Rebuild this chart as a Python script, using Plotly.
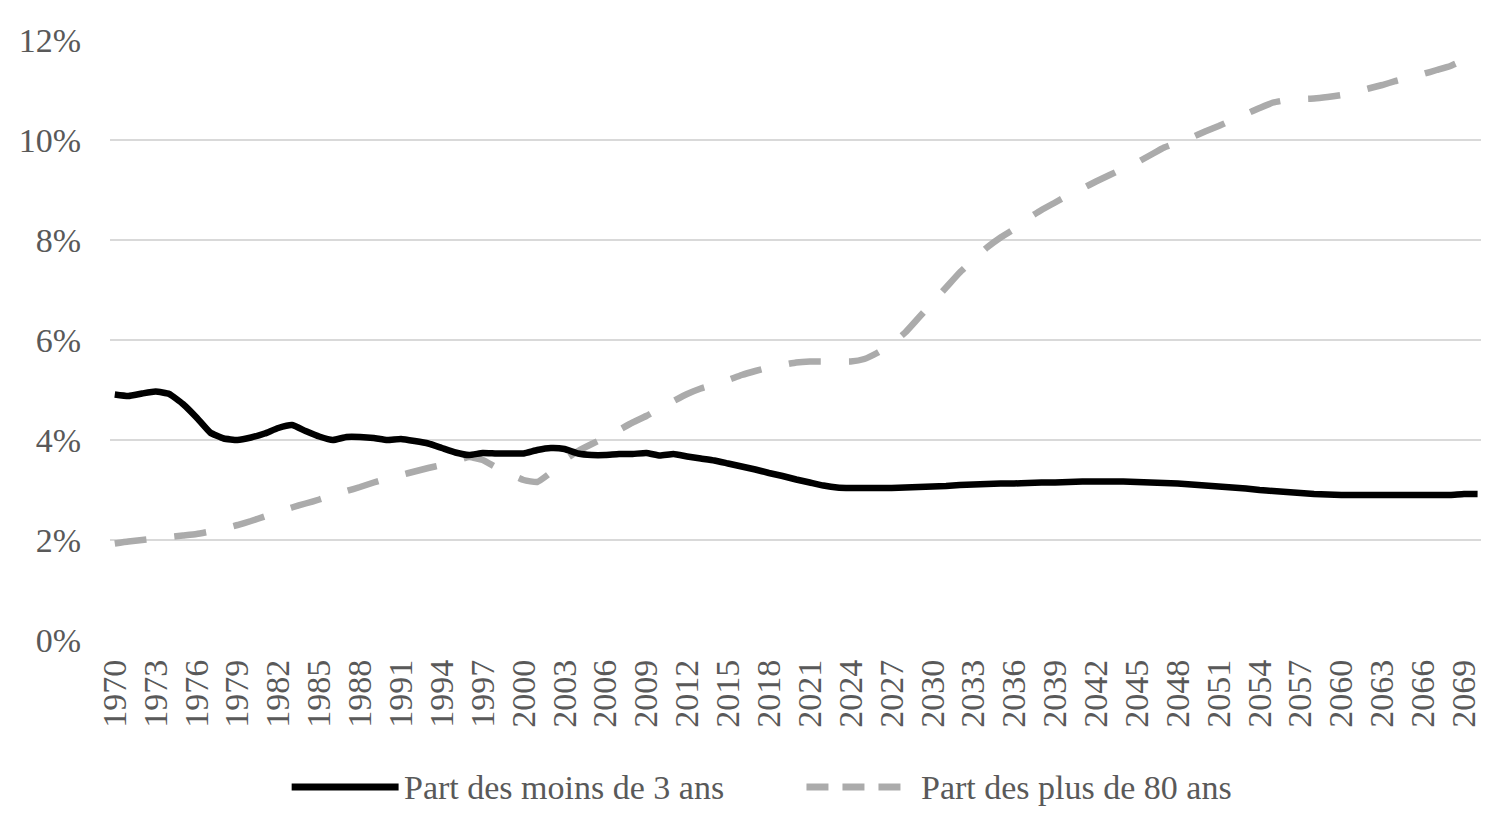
import plotly.graph_objects as go

years = list(range(1970, 2071))

moins_3_ans = [
    4.91, 4.88, 4.93, 4.97, 4.92, 4.72, 4.45, 4.15, 4.03, 4.00,  # 1970-1979
    4.05, 4.13, 4.24, 4.30, 4.18, 4.07, 4.00, 4.06, 4.06, 4.04,  # 1980-1989
    4.00, 4.02, 3.98, 3.93, 3.84, 3.75, 3.70, 3.74, 3.73, 3.73,  # 1990-1999
    3.73, 3.80, 3.84, 3.82, 3.73, 3.70, 3.70, 3.72, 3.72, 3.74,  # 2000-2009
    3.69, 3.72, 3.67, 3.63, 3.59, 3.53, 3.47, 3.41, 3.34, 3.28,  # 2010-2019
    3.21, 3.15, 3.09, 3.05, 3.04, 3.04, 3.04, 3.04, 3.05, 3.06,  # 2020-2029
    3.07, 3.08, 3.10, 3.11, 3.12, 3.13, 3.13, 3.14, 3.15, 3.15,  # 2030-2039
    3.16, 3.17, 3.17, 3.17, 3.17, 3.16, 3.15, 3.14, 3.13, 3.11,  # 2040-2049
    3.09, 3.07, 3.05, 3.03, 3.00, 2.98, 2.96, 2.94, 2.92, 2.91,  # 2050-2059
    2.90, 2.90, 2.90, 2.90, 2.90, 2.90, 2.90, 2.90, 2.90, 2.92,  # 2060-2069
    2.92,                                                        # 2070
]

plus_80_ans = [
    1.93, 1.97, 2.00, 2.03, 2.06, 2.09, 2.12, 2.17, 2.23, 2.30,  # 1970-1979
    2.38, 2.47, 2.56, 2.65, 2.73, 2.81, 2.90, 2.98, 3.06, 3.15,  # 1980-1989
    3.23, 3.30, 3.37, 3.44, 3.50, 3.58, 3.66, 3.60, 3.45, 3.32,  # 1990-1999
    3.20, 3.16, 3.35, 3.60, 3.78, 3.92, 4.05, 4.20, 4.35, 4.48,  # 2000-2009
    4.63, 4.78, 4.92, 5.03, 5.11, 5.20, 5.30, 5.38, 5.45, 5.50,  # 2010-2019
    5.55, 5.57, 5.57, 5.57, 5.57, 5.62, 5.75, 5.92, 6.15, 6.45,  # 2020-2029
    6.75, 7.05, 7.35, 7.60, 7.85, 8.05, 8.22, 8.43, 8.60, 8.75,  # 2030-2039
    8.90, 9.03, 9.17, 9.30, 9.43, 9.55, 9.70, 9.85, 9.95, 10.05, # 2040-2049
    10.17, 10.28, 10.40, 10.52, 10.64, 10.75, 10.80, 10.82, 10.83, 10.86, # 2050-2059
    10.90, 10.96, 11.03, 11.10, 11.18, 11.25, 11.32, 11.40, 11.48, 11.60, # 2060-2069
    11.72,                                                        # 2070
]

tick_years = list(range(1970, 2070, 3))
tick_labels = [str(y) for y in tick_years]
y_ticks = [0, 2, 4, 6, 8, 10, 12]
y_labels = ["0%", "2%", "4%", "6%", "8%", "10%", "12%"]

series_names = ["Part des moins de 3 ans", "Part des plus de 80 ans"]
FONT = "Liberation Serif"
TXT = "#595959"
FS = 34

fig = go.Figure()
fig.add_trace(go.Scatter(
    x=years, y=plus_80_ans, mode="lines", name=series_names[1],
    line=dict(color="#ababab", width=6.5, dash="32px,28px", shape="spline", smoothing=0.4),
))
fig.add_trace(go.Scatter(
    x=years, y=moins_3_ans, mode="lines", name=series_names[0],
    line=dict(color="#000000", width=6.5, shape="spline", smoothing=0.4),
))

# custom legend (paper coordinates)
LY = -0.245
fig.add_shape(type="line", xref="paper", yref="paper", x0=0.1325, x1=0.2105, y0=LY, y1=LY,
              line=dict(color="#000000", width=7))
fig.add_annotation(xref="paper", yref="paper", x=0.2130, y=LY, text=series_names[0],
                   showarrow=False, xanchor="left", yanchor="middle",
                   font=dict(family=FONT, size=FS, color=TXT))
fig.add_shape(type="line", xref="paper", yref="paper", x0=0.508, x1=0.579, y0=LY, y1=LY,
              line=dict(color="#ababab", width=7, dash="22px,14px"))
fig.add_annotation(xref="paper", yref="paper", x=0.5900, y=LY, text=series_names[1],
                   showarrow=False, xanchor="left", yanchor="middle",
                   font=dict(family=FONT, size=FS, color=TXT))

fig.update_layout(
    width=1504, height=818,
    margin=dict(l=102, r=31, t=32, b=186),
    plot_bgcolor="white", paper_bgcolor="white",
    showlegend=False,
    font=dict(family=FONT, size=FS, color=TXT),
    xaxis=dict(
        range=[1969.65, 2070.25], tickmode="array", tickvals=tick_years, ticktext=tick_labels,
        tickangle=-90, showgrid=False, zeroline=False, showline=False, ticks="",
        ticklabelstandoff=12,
        tickfont=dict(family=FONT, size=FS, color=TXT), automargin=False,
    ),
    yaxis=dict(
        range=[0, 12], tickmode="array", tickvals=y_ticks, ticktext=y_labels,
        showgrid=True, gridcolor="#d9d9d9", gridwidth=2, zeroline=False, showline=False,
        ticks="", ticklabelstandoff=28, automargin=False,
        tickfont=dict(family=FONT, size=FS, color=TXT),
    ),
)

fig.write_html("out.html")
